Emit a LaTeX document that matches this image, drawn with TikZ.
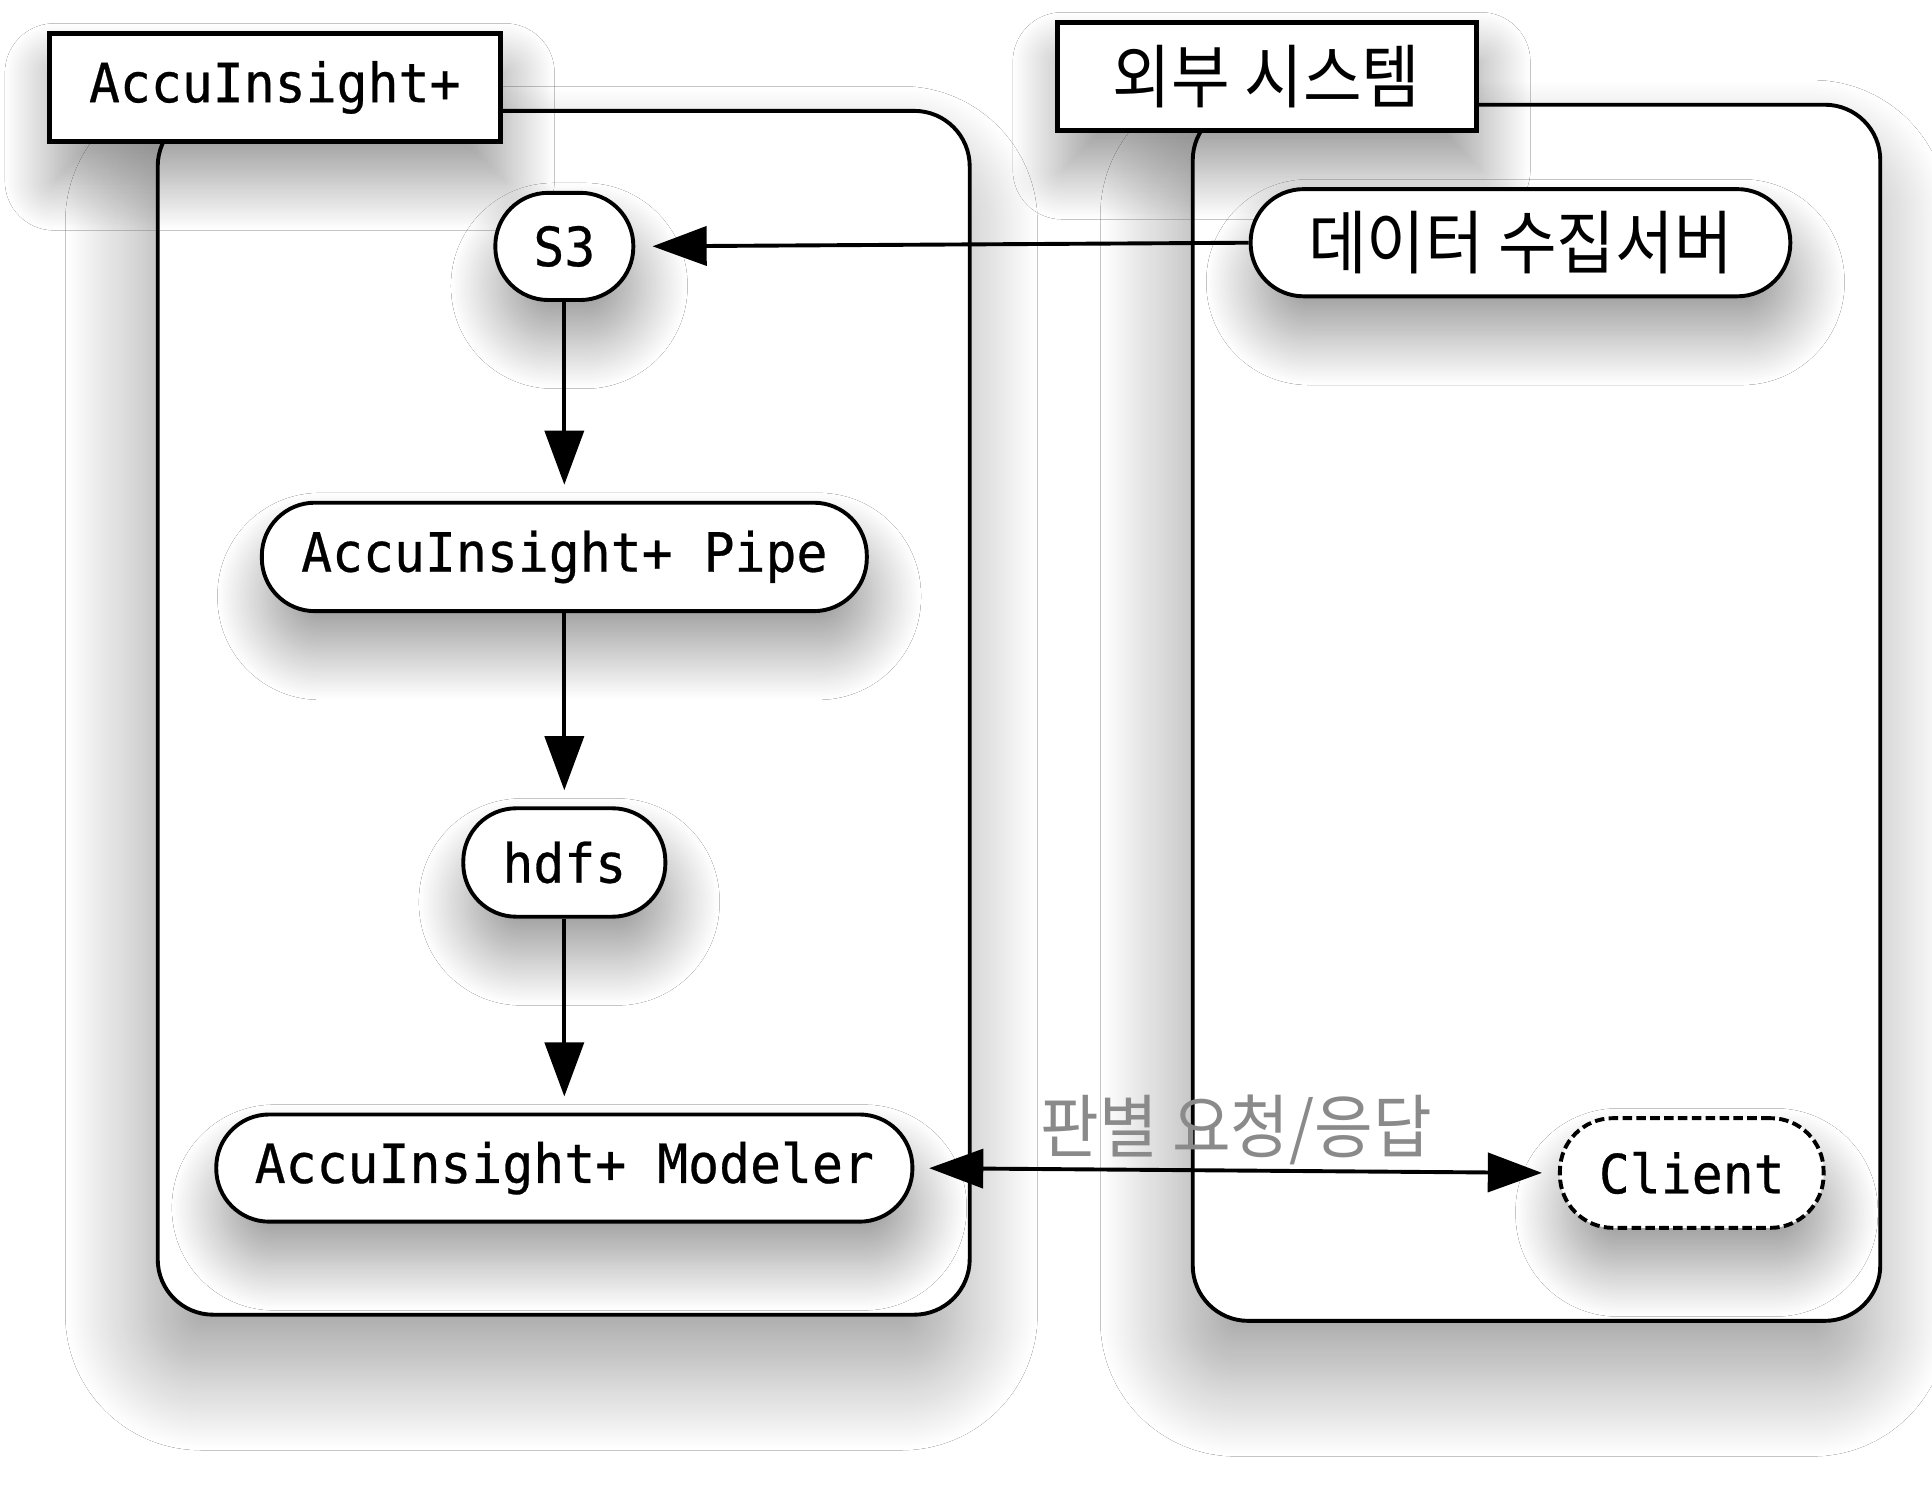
\documentclass[tikz,border=0pt]{standalone}
\usepackage{fontspec}
\usetikzlibrary{arrows.meta,shadows.blur}
\newfontfamily\latfont{DejaVu Sans Mono}[FakeStretch=0.95,FakeBold=0.5]
\newfontfamily\krfont{Noto Sans CJK KR}[FakeStretch=0.92]
\definecolor{lblgray}{HTML}{8A8A8A}
\begin{document}
\begin{tikzpicture}[x=1cm,y=1cm,
  cont/.style={draw=black, line width=0.9pt, fill=white, rounded corners=0.45cm, inner sep=0pt},
  lbl/.style={draw=black, line width=1.2pt, fill=white, inner sep=0pt, minimum height=0.88cm},
  pill/.style={draw=black, line width=0.9pt, fill=white, rounded corners=0.43cm, inner sep=0pt, minimum height=0.87cm},
  nshadow/.style={blur shadow={shadow xshift=0.04cm, shadow yshift=-0.32cm, shadow blur radius=0.4cm, shadow opacity=40, shadow blur steps=40}},
  cshadow/.style={blur shadow={shadow xshift=-0.1cm, shadow yshift=-0.45cm, shadow blur radius=0.65cm, shadow opacity=38, shadow blur steps=50}},
  conn/.style={line width=0.9pt, -{Triangle[length=12.5pt,width=9pt]}},
  biconn/.style={line width=0.9pt, {Triangle[length=12.5pt,width=9pt]}-{Triangle[length=12.5pt,width=9pt]}},
  lat/.style={font=\latfont\fontsize{12.5}{15}\selectfont},
  kr/.style={font=\krfont\fontsize{16}{19}\selectfont}]

\useasboundingbox (0,0) rectangle (15.68,-12.25);
\fill[white] (0,0) rectangle (15.68,-12.25);

% containers
\node[cont, cshadow, minimum width=6.59cm, minimum height=9.77cm] (leftc) at (4.575,-5.785) {};
\node[cont, cshadow, minimum width=5.58cm, minimum height=9.87cm] (rightc) at (12.47,-5.785) {};

% container labels
\node[lbl, nshadow, lat, minimum width=3.66cm] (lblA) at (2.23,-0.71) {AccuInsight+};
\node[lbl, nshadow, kr, minimum width=3.40cm] (lblB) at (10.28,-0.62) {외부 시스템};

% nodes
\node[pill, nshadow, lat, minimum width=1.12cm] (s3) at (4.58,-2.00) {S3};
\node[pill, nshadow, kr, minimum width=4.38cm] (data) at (12.34,-1.97) {데이터 수집서버};
\node[pill, nshadow, lat, minimum width=4.91cm, minimum height=0.88cm] (pipe) at (4.58,-4.52) {AccuInsight+ Pipe};
\node[pill, nshadow, lat, minimum width=1.64cm, minimum height=0.88cm] (hdfs) at (4.58,-7.00) {hdfs};
\node[pill, nshadow, lat, minimum width=5.65cm] (modeler) at (4.58,-9.48) {AccuInsight+ Modeler};
\node[pill, nshadow, lat, dash pattern=on 2.2pt off 1pt, minimum width=2.14cm, minimum height=0.89cm] (client) at (13.73,-9.52) {Client};

% connectors
\draw[conn, shorten >=0.14cm] (data.west) -- (s3.east);
\draw[conn, shorten >=0.13cm] (s3.south) -- (pipe.north);
\draw[conn, shorten >=0.13cm] (pipe.south) -- (hdfs.north);
\draw[conn, shorten >=0.13cm] (hdfs.south) -- (modeler.north);
\draw[biconn, shorten <=0.12cm, shorten >=0.13cm] (modeler.east) -- node[above, inner sep=0pt, yshift=0.03cm, kr, text=lblgray] (reqlbl) {판별 요청/응답} (client.west);
\end{tikzpicture}
\end{document}
